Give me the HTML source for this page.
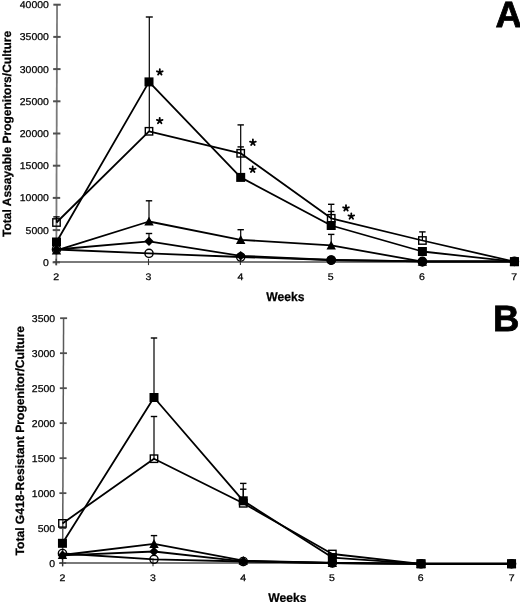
<!DOCTYPE html>
<html><head><meta charset="utf-8"><style>
html,body{margin:0;padding:0;background:#fff;width:520px;height:602px;overflow:hidden}
svg{display:block;font-family:"Liberation Sans",sans-serif;filter:grayscale(1)}
text{stroke:#000;stroke-width:0.25px;text-rendering:geometricPrecision}
</style></head><body>
<svg width="520" height="602" viewBox="0 0 520 602" font-family="Liberation Sans, sans-serif" fill="#000">
<line x1="57.05" y1="4.70" x2="56.30" y2="265.40" stroke="#7a7a7a" stroke-width="1.8"/>
<line x1="53.50" y1="262.00" x2="516.00" y2="262.00" stroke="#7a7a7a" stroke-width="2.0"/>
<line x1="53.35" y1="4.70" x2="60.75" y2="4.70" stroke="#505050" stroke-width="2.0"/>
<text transform="translate(48.90,8.25) scale(1.06,1)" font-size="9.9" text-anchor="end">40000</text>
<line x1="53.26" y1="36.90" x2="60.66" y2="36.90" stroke="#505050" stroke-width="2.0"/>
<text transform="translate(48.90,40.45) scale(1.06,1)" font-size="9.9" text-anchor="end">35000</text>
<line x1="53.16" y1="69.10" x2="60.56" y2="69.10" stroke="#505050" stroke-width="2.0"/>
<text transform="translate(48.90,72.65) scale(1.06,1)" font-size="9.9" text-anchor="end">30000</text>
<line x1="53.07" y1="101.30" x2="60.47" y2="101.30" stroke="#505050" stroke-width="2.0"/>
<text transform="translate(48.90,104.85) scale(1.06,1)" font-size="9.9" text-anchor="end">25000</text>
<line x1="52.98" y1="133.50" x2="60.38" y2="133.50" stroke="#505050" stroke-width="2.0"/>
<text transform="translate(48.90,137.05) scale(1.06,1)" font-size="9.9" text-anchor="end">20000</text>
<line x1="52.89" y1="165.70" x2="60.29" y2="165.70" stroke="#505050" stroke-width="2.0"/>
<text transform="translate(48.90,169.25) scale(1.06,1)" font-size="9.9" text-anchor="end">15000</text>
<line x1="52.79" y1="197.90" x2="60.19" y2="197.90" stroke="#505050" stroke-width="2.0"/>
<text transform="translate(48.90,201.45) scale(1.06,1)" font-size="9.9" text-anchor="end">10000</text>
<line x1="52.70" y1="230.10" x2="60.10" y2="230.10" stroke="#505050" stroke-width="2.0"/>
<text transform="translate(48.90,233.65) scale(1.06,1)" font-size="9.9" text-anchor="end">5000</text>
<line x1="52.61" y1="262.30" x2="60.01" y2="262.30" stroke="#505050" stroke-width="2.0"/>
<text transform="translate(48.90,265.85) scale(1.06,1)" font-size="9.9" text-anchor="end">0</text>
<line x1="56.15" y1="258.70" x2="56.15" y2="265.10" stroke="#333" stroke-width="1.1"/>
<text transform="translate(56.15,279.90) scale(1.1,1)" font-size="9.6" text-anchor="middle">2</text>
<line x1="148.50" y1="258.70" x2="148.50" y2="265.10" stroke="#333" stroke-width="1.1"/>
<text transform="translate(148.50,279.90) scale(1.1,1)" font-size="9.6" text-anchor="middle">3</text>
<line x1="240.40" y1="258.70" x2="240.40" y2="265.10" stroke="#333" stroke-width="1.1"/>
<text transform="translate(240.40,279.90) scale(1.1,1)" font-size="9.6" text-anchor="middle">4</text>
<line x1="330.60" y1="258.70" x2="330.60" y2="265.10" stroke="#333" stroke-width="1.1"/>
<text transform="translate(330.60,279.90) scale(1.1,1)" font-size="9.6" text-anchor="middle">5</text>
<line x1="421.90" y1="258.70" x2="421.90" y2="265.10" stroke="#333" stroke-width="1.1"/>
<text transform="translate(421.90,279.90) scale(1.1,1)" font-size="9.6" text-anchor="middle">6</text>
<line x1="514.25" y1="258.70" x2="514.25" y2="265.10" stroke="#333" stroke-width="1.1"/>
<text transform="translate(514.25,279.90) scale(1.1,1)" font-size="9.6" text-anchor="middle">7</text>
<text transform="translate(285.40,300.50) scale(0.965,1)" font-size="12.6" font-weight="bold" text-anchor="middle">Weeks</text>
<text transform="translate(10.8,133.9) rotate(-90)" font-size="12" font-weight="bold" text-anchor="middle">Total Assayable Progenitors/Culture</text>
<text x="495.40" y="26.50" font-size="36.6" font-weight="bold" text-anchor="start" style="stroke-width:0.8px">A</text>
<line x1="149.30" y1="82.00" x2="149.30" y2="17.00" stroke="#000" stroke-width="1.2"/>
<line x1="145.80" y1="17.00" x2="152.80" y2="17.00" stroke="#000" stroke-width="1.4"/>
<line x1="149.30" y1="82.00" x2="149.30" y2="131.30" stroke="#000" stroke-width="1.2"/>
<line x1="240.70" y1="153.60" x2="240.70" y2="124.90" stroke="#000" stroke-width="1.2"/>
<line x1="237.50" y1="124.90" x2="243.90" y2="124.90" stroke="#000" stroke-width="1.4"/>
<line x1="240.70" y1="177.30" x2="240.70" y2="146.90" stroke="#000" stroke-width="1.2"/>
<line x1="237.50" y1="146.90" x2="243.90" y2="146.90" stroke="#000" stroke-width="1.4"/>
<line x1="331.20" y1="218.30" x2="331.20" y2="204.30" stroke="#000" stroke-width="1.2"/>
<line x1="328.00" y1="204.30" x2="334.40" y2="204.30" stroke="#000" stroke-width="1.4"/>
<line x1="331.20" y1="225.50" x2="331.20" y2="211.50" stroke="#000" stroke-width="1.2"/>
<line x1="328.00" y1="211.50" x2="334.40" y2="211.50" stroke="#000" stroke-width="1.4"/>
<line x1="422.40" y1="240.50" x2="422.40" y2="231.90" stroke="#000" stroke-width="1.2"/>
<line x1="419.20" y1="231.90" x2="425.60" y2="231.90" stroke="#000" stroke-width="1.4"/>
<line x1="56.50" y1="222.50" x2="56.50" y2="216.90" stroke="#000" stroke-width="1.2"/>
<line x1="53.30" y1="216.90" x2="59.70" y2="216.90" stroke="#000" stroke-width="1.4"/>
<line x1="149.00" y1="221.50" x2="149.00" y2="200.80" stroke="#000" stroke-width="1.2"/>
<line x1="145.80" y1="200.80" x2="152.20" y2="200.80" stroke="#000" stroke-width="1.4"/>
<line x1="240.70" y1="239.80" x2="240.70" y2="229.70" stroke="#000" stroke-width="1.2"/>
<line x1="237.50" y1="229.70" x2="243.90" y2="229.70" stroke="#000" stroke-width="1.4"/>
<line x1="331.20" y1="245.40" x2="331.20" y2="234.40" stroke="#000" stroke-width="1.2"/>
<line x1="328.00" y1="234.40" x2="334.40" y2="234.40" stroke="#000" stroke-width="1.4"/>
<line x1="149.00" y1="241.30" x2="149.00" y2="233.50" stroke="#000" stroke-width="1.2"/>
<line x1="145.80" y1="233.50" x2="152.20" y2="233.50" stroke="#000" stroke-width="1.4"/>
<polyline points="56.50,249.50 149.00,253.30 240.70,257.00 331.20,260.00 422.40,261.40 514.40,261.40" fill="none" stroke="#000" stroke-width="1.8" stroke-linejoin="round"/>
<polyline points="56.50,249.50 149.00,241.30 240.70,255.80 331.20,260.00 422.40,261.40 514.40,261.40" fill="none" stroke="#000" stroke-width="1.8" stroke-linejoin="round"/>
<polyline points="56.50,250.30 149.00,221.50 240.70,239.80 331.20,245.40 422.40,261.60 514.40,261.60" fill="none" stroke="#000" stroke-width="1.8" stroke-linejoin="round"/>
<polyline points="56.50,222.50 149.00,131.30 240.70,153.30 331.20,218.30 422.40,240.50 514.40,261.70" fill="none" stroke="#000" stroke-width="1.8" stroke-linejoin="round"/>
<polyline points="56.50,242.00 149.00,81.90 240.70,177.40 331.20,225.50 422.40,251.50 514.40,261.70" fill="none" stroke="#000" stroke-width="1.8" stroke-linejoin="round"/>
<circle cx="56.50" cy="249.50" r="4.10" fill="none" stroke="#000" stroke-width="1.4"/>
<circle cx="149.00" cy="253.30" r="4.10" fill="none" stroke="#000" stroke-width="1.4"/>
<circle cx="240.70" cy="257.00" r="4.10" fill="none" stroke="#000" stroke-width="1.4"/>
<circle cx="331.20" cy="260.00" r="4.10" fill="none" stroke="#000" stroke-width="1.4"/>
<circle cx="422.40" cy="261.40" r="4.10" fill="none" stroke="#000" stroke-width="1.4"/>
<circle cx="514.40" cy="261.40" r="4.10" fill="none" stroke="#000" stroke-width="1.4"/>
<polygon points="56.50,244.80 61.20,249.50 56.50,254.20 51.80,249.50" fill="#000"/>
<polygon points="149.00,236.60 153.70,241.30 149.00,246.00 144.30,241.30" fill="#000"/>
<polygon points="240.70,251.10 245.40,255.80 240.70,260.50 236.00,255.80" fill="#000"/>
<polygon points="331.20,255.30 335.90,260.00 331.20,264.70 326.50,260.00" fill="#000"/>
<polygon points="422.40,256.70 427.10,261.40 422.40,266.10 417.70,261.40" fill="#000"/>
<polygon points="514.40,256.70 519.10,261.40 514.40,266.10 509.70,261.40" fill="#000"/>
<polygon points="56.50,245.60 61.20,254.40 51.80,254.40" fill="#000"/>
<polygon points="149.00,216.80 153.70,225.60 144.30,225.60" fill="#000"/>
<polygon points="240.70,235.10 245.40,243.90 236.00,243.90" fill="#000"/>
<polygon points="331.20,240.70 335.90,249.50 326.50,249.50" fill="#000"/>
<polygon points="422.40,256.90 427.10,265.70 417.70,265.70" fill="#000"/>
<polygon points="514.40,256.90 519.10,265.70 509.70,265.70" fill="#000"/>
<rect x="52.80" y="218.80" width="7.40" height="7.40" fill="none" stroke="#000" stroke-width="1.4"/>
<rect x="145.30" y="127.60" width="7.40" height="7.40" fill="none" stroke="#000" stroke-width="1.4"/>
<rect x="237.00" y="149.60" width="7.40" height="7.40" fill="none" stroke="#000" stroke-width="1.4"/>
<rect x="327.50" y="214.60" width="7.40" height="7.40" fill="none" stroke="#000" stroke-width="1.4"/>
<rect x="418.70" y="236.80" width="7.40" height="7.40" fill="none" stroke="#000" stroke-width="1.4"/>
<rect x="510.70" y="258.00" width="7.40" height="7.40" fill="none" stroke="#000" stroke-width="1.4"/>
<rect x="52.00" y="237.50" width="9.0" height="9.0" fill="#000"/>
<rect x="144.50" y="77.40" width="9.0" height="9.0" fill="#000"/>
<rect x="236.20" y="172.90" width="9.0" height="9.0" fill="#000"/>
<rect x="326.70" y="221.00" width="9.0" height="9.0" fill="#000"/>
<rect x="417.90" y="247.00" width="9.0" height="9.0" fill="#000"/>
<rect x="509.90" y="257.20" width="9.0" height="9.0" fill="#000"/>
<circle cx="331.20" cy="260.20" r="4.80" fill="#000"/>
<circle cx="422.40" cy="262.00" r="4.70" fill="#000"/>
<path d="M159.80,72.20L159.80,69.20M159.80,72.20L162.65,71.27M159.80,72.20L161.56,74.63M159.80,72.20L158.04,74.63M159.80,72.20L156.95,71.27" stroke="#000" stroke-width="1.8" stroke-linecap="round" fill="none"/>
<path d="M159.70,120.80L159.70,117.80M159.70,120.80L162.55,119.87M159.70,120.80L161.46,123.23M159.70,120.80L157.94,123.23M159.70,120.80L156.85,119.87" stroke="#000" stroke-width="1.8" stroke-linecap="round" fill="none"/>
<path d="M252.90,142.50L252.90,139.50M252.90,142.50L255.75,141.57M252.90,142.50L254.66,144.93M252.90,142.50L251.14,144.93M252.90,142.50L250.05,141.57" stroke="#000" stroke-width="1.8" stroke-linecap="round" fill="none"/>
<path d="M252.70,169.50L252.70,166.50M252.70,169.50L255.55,168.57M252.70,169.50L254.46,171.93M252.70,169.50L250.94,171.93M252.70,169.50L249.85,168.57" stroke="#000" stroke-width="1.8" stroke-linecap="round" fill="none"/>
<path d="M346.00,208.20L346.00,205.20M346.00,208.20L348.85,207.27M346.00,208.20L347.76,210.63M346.00,208.20L344.24,210.63M346.00,208.20L343.15,207.27" stroke="#000" stroke-width="1.8" stroke-linecap="round" fill="none"/>
<path d="M351.30,216.30L351.30,213.30M351.30,216.30L354.15,215.37M351.30,216.30L353.06,218.73M351.30,216.30L349.54,218.73M351.30,216.30L348.45,215.37" stroke="#000" stroke-width="1.8" stroke-linecap="round" fill="none"/>
<line x1="63.60" y1="318.20" x2="62.60" y2="566.30" stroke="#5a5a5a" stroke-width="1.5"/>
<line x1="60.00" y1="563.10" x2="513.00" y2="563.10" stroke="#7a7a7a" stroke-width="2.0"/>
<line x1="60.10" y1="318.20" x2="67.10" y2="318.20" stroke="#505050" stroke-width="1.8"/>
<text transform="translate(55.10,321.75) scale(1.06,1)" font-size="9.9" text-anchor="end">3500</text>
<line x1="59.96" y1="353.19" x2="66.96" y2="353.19" stroke="#505050" stroke-width="1.8"/>
<text transform="translate(55.10,356.74) scale(1.06,1)" font-size="9.9" text-anchor="end">3000</text>
<line x1="59.82" y1="388.18" x2="66.82" y2="388.18" stroke="#505050" stroke-width="1.8"/>
<text transform="translate(55.10,391.73) scale(1.06,1)" font-size="9.9" text-anchor="end">2500</text>
<line x1="59.68" y1="423.17" x2="66.68" y2="423.17" stroke="#505050" stroke-width="1.8"/>
<text transform="translate(55.10,426.72) scale(1.06,1)" font-size="9.9" text-anchor="end">2000</text>
<line x1="59.54" y1="458.16" x2="66.54" y2="458.16" stroke="#505050" stroke-width="1.8"/>
<text transform="translate(55.10,461.71) scale(1.06,1)" font-size="9.9" text-anchor="end">1500</text>
<line x1="59.39" y1="493.15" x2="66.39" y2="493.15" stroke="#505050" stroke-width="1.8"/>
<text transform="translate(55.10,496.70) scale(1.06,1)" font-size="9.9" text-anchor="end">1000</text>
<line x1="59.25" y1="528.14" x2="66.25" y2="528.14" stroke="#505050" stroke-width="1.8"/>
<text transform="translate(55.10,531.69) scale(1.06,1)" font-size="9.9" text-anchor="end">500</text>
<line x1="59.11" y1="563.13" x2="66.11" y2="563.13" stroke="#505050" stroke-width="1.8"/>
<text transform="translate(55.10,566.68) scale(1.06,1)" font-size="9.9" text-anchor="end">0</text>
<line x1="62.55" y1="559.80" x2="62.55" y2="566.20" stroke="#333" stroke-width="1.1"/>
<text transform="translate(62.55,581.20) scale(1.1,1)" font-size="9.6" text-anchor="middle">2</text>
<line x1="153.00" y1="559.80" x2="153.00" y2="566.20" stroke="#333" stroke-width="1.1"/>
<text transform="translate(153.00,581.20) scale(1.1,1)" font-size="9.6" text-anchor="middle">3</text>
<line x1="243.25" y1="559.80" x2="243.25" y2="566.20" stroke="#333" stroke-width="1.1"/>
<text transform="translate(243.25,581.20) scale(1.1,1)" font-size="9.6" text-anchor="middle">4</text>
<line x1="331.95" y1="559.80" x2="331.95" y2="566.20" stroke="#333" stroke-width="1.1"/>
<text transform="translate(331.95,581.20) scale(1.1,1)" font-size="9.6" text-anchor="middle">5</text>
<line x1="420.80" y1="559.80" x2="420.80" y2="566.20" stroke="#333" stroke-width="1.1"/>
<text transform="translate(420.80,581.20) scale(1.1,1)" font-size="9.6" text-anchor="middle">6</text>
<line x1="511.60" y1="559.80" x2="511.60" y2="566.20" stroke="#333" stroke-width="1.1"/>
<text transform="translate(511.60,581.20) scale(1.1,1)" font-size="9.6" text-anchor="middle">7</text>
<text transform="translate(287.35,602.20) scale(0.965,1)" font-size="12.6" font-weight="bold" text-anchor="middle">Weeks</text>
<text transform="translate(23.5,440.7) rotate(-90)" font-size="12.1" font-weight="bold" text-anchor="middle">Total G418-Resistant Progenitor/Culture</text>
<text x="493.00" y="330.70" font-size="36.6" font-weight="bold" text-anchor="start" style="stroke-width:0.8px">B</text>
<line x1="154.00" y1="397.50" x2="154.00" y2="338.00" stroke="#000" stroke-width="1.2"/>
<line x1="150.80" y1="338.00" x2="157.20" y2="338.00" stroke="#000" stroke-width="1.4"/>
<line x1="154.00" y1="458.70" x2="154.00" y2="416.50" stroke="#000" stroke-width="1.2"/>
<line x1="150.80" y1="416.50" x2="157.20" y2="416.50" stroke="#000" stroke-width="1.4"/>
<line x1="243.25" y1="500.80" x2="243.25" y2="483.40" stroke="#000" stroke-width="1.2"/>
<line x1="240.05" y1="483.40" x2="246.45" y2="483.40" stroke="#000" stroke-width="1.4"/>
<line x1="243.25" y1="503.30" x2="243.25" y2="489.20" stroke="#000" stroke-width="1.2"/>
<line x1="240.05" y1="489.20" x2="246.45" y2="489.20" stroke="#000" stroke-width="1.4"/>
<line x1="154.00" y1="543.80" x2="154.00" y2="535.60" stroke="#000" stroke-width="1.2"/>
<line x1="150.80" y1="535.60" x2="157.20" y2="535.60" stroke="#000" stroke-width="1.4"/>
<polyline points="62.45,553.50 154.00,559.30 243.25,561.50 332.35,563.00 421.00,563.80 511.55,563.80" fill="none" stroke="#000" stroke-width="1.8" stroke-linejoin="round"/>
<polyline points="62.45,555.30 154.00,551.50 243.25,561.30 332.35,563.00 421.00,563.80 511.55,563.80" fill="none" stroke="#000" stroke-width="1.8" stroke-linejoin="round"/>
<polyline points="62.45,555.00 154.00,543.80 243.25,560.60 332.35,563.00 421.00,563.80 511.55,563.80" fill="none" stroke="#000" stroke-width="1.8" stroke-linejoin="round"/>
<polyline points="62.45,523.40 154.00,458.70 243.25,503.30 332.35,554.00 421.00,563.80 511.55,563.80" fill="none" stroke="#000" stroke-width="1.8" stroke-linejoin="round"/>
<polyline points="62.45,543.30 154.00,397.50 243.25,500.80 332.35,557.60 421.00,563.80 511.55,563.80" fill="none" stroke="#000" stroke-width="1.8" stroke-linejoin="round"/>
<circle cx="62.45" cy="553.50" r="4.10" fill="none" stroke="#000" stroke-width="1.4"/>
<circle cx="154.00" cy="559.30" r="4.10" fill="none" stroke="#000" stroke-width="1.4"/>
<circle cx="243.25" cy="561.50" r="4.10" fill="none" stroke="#000" stroke-width="1.4"/>
<circle cx="332.35" cy="563.00" r="4.10" fill="none" stroke="#000" stroke-width="1.4"/>
<circle cx="421.00" cy="563.80" r="4.10" fill="none" stroke="#000" stroke-width="1.4"/>
<circle cx="511.55" cy="563.80" r="4.10" fill="none" stroke="#000" stroke-width="1.4"/>
<polygon points="62.45,550.60 67.15,555.30 62.45,560.00 57.75,555.30" fill="#000"/>
<polygon points="154.00,546.80 158.70,551.50 154.00,556.20 149.30,551.50" fill="#000"/>
<polygon points="243.25,556.60 247.95,561.30 243.25,566.00 238.55,561.30" fill="#000"/>
<polygon points="332.35,558.30 337.05,563.00 332.35,567.70 327.65,563.00" fill="#000"/>
<polygon points="421.00,559.10 425.70,563.80 421.00,568.50 416.30,563.80" fill="#000"/>
<polygon points="511.55,559.10 516.25,563.80 511.55,568.50 506.85,563.80" fill="#000"/>
<polygon points="62.45,550.30 67.15,559.10 57.75,559.10" fill="#000"/>
<polygon points="154.00,539.10 158.70,547.90 149.30,547.90" fill="#000"/>
<polygon points="243.25,555.90 247.95,564.70 238.55,564.70" fill="#000"/>
<polygon points="332.35,558.30 337.05,567.10 327.65,567.10" fill="#000"/>
<polygon points="421.00,559.10 425.70,567.90 416.30,567.90" fill="#000"/>
<polygon points="511.55,559.10 516.25,567.90 506.85,567.90" fill="#000"/>
<rect x="58.75" y="519.70" width="7.40" height="7.40" fill="none" stroke="#000" stroke-width="1.4"/>
<rect x="150.30" y="455.00" width="7.40" height="7.40" fill="none" stroke="#000" stroke-width="1.4"/>
<rect x="239.55" y="499.60" width="7.40" height="7.40" fill="none" stroke="#000" stroke-width="1.4"/>
<rect x="328.65" y="550.30" width="7.40" height="7.40" fill="none" stroke="#000" stroke-width="1.4"/>
<rect x="417.30" y="560.10" width="7.40" height="7.40" fill="none" stroke="#000" stroke-width="1.4"/>
<rect x="507.85" y="560.10" width="7.40" height="7.40" fill="none" stroke="#000" stroke-width="1.4"/>
<rect x="57.95" y="538.80" width="9.0" height="9.0" fill="#000"/>
<rect x="149.50" y="393.00" width="9.0" height="9.0" fill="#000"/>
<rect x="238.75" y="496.30" width="9.0" height="9.0" fill="#000"/>
<rect x="327.85" y="553.10" width="9.0" height="9.0" fill="#000"/>
<rect x="416.50" y="559.30" width="9.0" height="9.0" fill="#000"/>
<rect x="507.05" y="559.30" width="9.0" height="9.0" fill="#000"/>
</svg>
</body></html>
